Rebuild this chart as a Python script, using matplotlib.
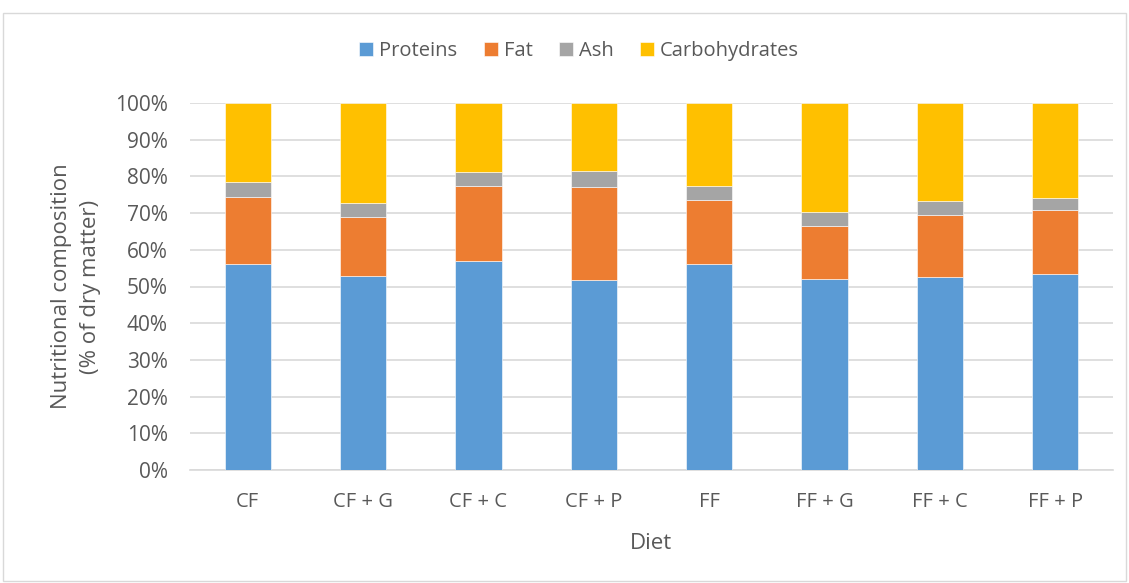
import numpy as np
import matplotlib
matplotlib.use("Agg")
from matplotlib import pyplot as plt
from matplotlib.patches import Rectangle
from matplotlib.ticker import PercentFormatter

plt.rcParams['font.family'] = ['Open Sans', 'DejaVu Sans']

### ----------------------------- Donnees ----------------------------- ###
diets = ["CF", "CF + G", "CF + C", "CF + P", "FF", "FF + G", "FF + C", "FF + P"]
proteins = [56.2, 52.9, 56.9, 51.9, 56.0, 52.0, 52.7, 53.3]
fat = [18.3, 16.1, 20.5, 25.3, 17.6, 14.5, 16.9, 17.6]
ash = [4.0, 3.7, 3.85, 4.3, 3.8, 3.7, 3.8, 3.2]
carbohydrates = [21.5, 27.3, 18.75, 18.5, 22.6, 29.8, 26.6, 25.9]

series = [("Proteins", proteins, "#5b9bd5"),
          ("Fat", fat, "#ed7d31"),
          ("Ash", ash, "#a5a5a5"),
          ("Carbohydrates", carbohydrates, "#ffc000")]

fig = plt.figure(figsize=(11.29, 5.83), dpi=100)
ax = fig.add_axes([190 / 1129, 1 - 470 / 583, 923 / 1129, 367 / 583])

# Cadre du graphique
fig.patches.append(Rectangle((3 / 1129, 2 / 583), 1 - 6 / 1129, 1 - 15 / 583,
                             transform=fig.transFigure, fill=False,
                             edgecolor="#d9d9d9", linewidth=1))

x = np.arange(len(diets))
bottom = np.zeros(len(diets))
for name, values, color in series:
    ax.bar(x, values, width=0.4, bottom=bottom, color=color, label=name,
           edgecolor="white", linewidth=0.4, zorder=3)
    bottom += np.array(values)

ax.set_xlim(-0.5, len(diets) - 0.5)
ax.set_ylim(0, 100)
ax.set_yticks(np.arange(0, 101, 10))
ax.yaxis.set_major_formatter(PercentFormatter(decimals=0))
ax.set_xticks(x)
ax.set_xticklabels(diets)
ax.grid(axis="y", color="#d9d9d9", linewidth=1.2, zorder=0)
for side in ["top", "right", "left"]:
    ax.spines[side].set_visible(False)
ax.spines["bottom"].set_color("#d9d9d9")
ax.spines["bottom"].set_linewidth(1.2)
ax.tick_params(axis="x", length=0, labelsize=14.5, colors="#595959", pad=16)
ax.tick_params(axis="y", length=0, labelsize=15, colors="#595959", pad=16)

ax.set_xlabel("Diet", fontsize=16, color="#595959", labelpad=15)
ax.set_ylabel("Nutritional composition\n(% of dry matter)", fontsize=16,
              color="#595959", labelpad=10, linespacing=1.5)

leg = fig.legend(loc="center", bbox_to_anchor=(579 / 1129, 1 - 51 / 583), ncol=4,
                 frameon=False, fontsize=14.5, handlelength=0.7, handleheight=0.7,
                 handletextpad=0.3, columnspacing=1.3)
for t in leg.get_texts():
    t.set_color("#595959")

plt.savefig("out.png", dpi=100)
